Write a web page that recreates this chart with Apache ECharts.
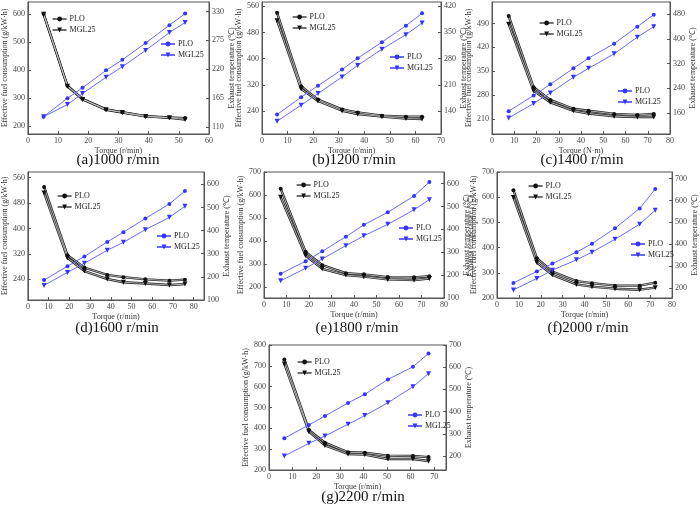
<!DOCTYPE html>
<html>
<head>
<meta charset="utf-8">
<script src="https://cdn.jsdelivr.net/npm/echarts@6/dist/echarts.min.js"></script>
<style>
  html, body { margin: 0; padding: 0; background: #fff; }
  #chart { width: 700px; height: 510px; }
</style>
</head>
<body>
<div id="chart"></div>
<script>
// torque values (x) and the two quantities for each speed
var torqueA = [5.2, 13.1, 18.1, 25.9, 31.3, 39.0, 46.9, 52.1];
var fuelPloA = [602, 344, 297, 259, 249, 235, 230, 228];
var fuelMglA = [600, 342, 295, 258, 248, 234, 229, 223];
var exhPloA = [130, 165, 185, 218, 238, 270, 304, 326];
var exhMglA = [130, 153, 174, 205, 225, 256, 290, 309];

var torqueB = [5.9, 15.3, 21.9, 31.3, 37.4, 46.9, 56.3, 62.6];
var fuelPloB = [540, 316, 275, 245, 236, 226, 223, 223];
var fuelMglB = [516, 308, 271, 241, 231, 223, 217, 216];
var exhPloB = [131, 177, 208, 251, 281, 324, 368, 401];
var exhMglB = [113, 156, 187, 231, 262, 305, 344, 375];

var torqueC = [7.5, 18.7, 26.2, 36.6, 43.4, 54.9, 65.3, 72.7];
var fuelPloC = [512, 303, 266, 240, 234, 225, 222, 225];
var fuelMglC = [488, 293, 259, 234, 226, 218, 216, 216];
var exhPloC = [166, 217, 253, 305, 338, 385, 440, 479];
var exhMglC = [144, 191, 225, 276, 305, 352, 406, 440];

var torqueD = [7.8, 19.1, 27.3, 38.3, 46.1, 56.7, 68.3, 75.8];
var fuelPloD = [531, 316, 277, 254, 247, 240, 236, 239];
var fuelMglD = [512, 308, 266, 241, 231, 227, 222, 225];
var exhPloD = [186, 246, 288, 351, 393, 452, 515, 571];
var exhMglD = [163, 219, 259, 315, 349, 404, 457, 505];

var torqueE = [7.4, 18.5, 25.9, 36.4, 44.4, 55.0, 66.7, 73.5];
var fuelPloE = [627, 352, 294, 259, 254, 242, 241, 246];
var fuelMglE = [590, 336, 278, 251, 244, 232, 229, 236];
var exhPloE = [206, 261, 304, 368, 420, 475, 546, 607];
var exhMglE = [175, 230, 271, 329, 372, 422, 486, 530];

var torqueF = [7.5, 18.2, 25.3, 36.3, 43.4, 53.9, 65.2, 72.3];
var fuelPloF = [628, 358, 305, 267, 259, 249, 249, 261];
var fuelMglF = [599, 341, 292, 254, 245, 237, 233, 241];
var exhPloF = [224, 276, 312, 364, 403, 473, 564, 652];
var exhMglF = [192, 244, 282, 329, 364, 423, 492, 556];

var torqueG = [6.5, 16.9, 23.7, 33.5, 40.6, 50.4, 61.0, 67.6];
var fuelPloG = [731, 392, 331, 285, 283, 269, 267, 262];
var fuelMglG = [709, 384, 318, 277, 274, 253, 253, 243];
var exhPloG = [280, 340, 380, 439, 478, 545, 602, 662];
var exhMglG = [200, 257, 290, 343, 382, 440, 512, 571];

// tick labels
var xTicks60 = [0, 10, 20, 30, 40, 50, 60];
var xTicks70 = [0, 10, 20, 30, 40, 50, 60, 70];
var xTicks80 = [0, 10, 20, 30, 40, 50, 60, 70, 80];
var fuelTicksA = [200, 300, 400, 500, 600];
var exhTicksA = [110, 165, 220, 275, 330];
var fuelTicksB = [240, 320, 400, 480, 560];
var exhTicksB = [140, 210, 280, 350, 420];
var fuelTicksC = [210, 280, 350, 420, 490];
var exhTicksC = [160, 240, 320, 400, 480];
var fuelTicksD = [240, 320, 400, 480, 560];
var exhTicksD = [100, 200, 300, 400, 500, 600];
var fuelTicksE = [200, 300, 400, 500, 600, 700];
var exhTicksE = [100, 200, 300, 400, 500, 600];
var fuelTicksF = [200, 300, 400, 500, 600, 700];
var exhTicksF = [200, 300, 400, 500, 600, 700];
var fuelTicksG = [200, 300, 400, 500, 600, 700, 800];
var exhTicksG = [200, 300, 400, 500, 600, 700];

var FONT = 'Liberation Serif';
var BLUE_LINE = '#6a6aff';
var BLUE_MARK = '#3434ff';

var panels = [
    { title: '(a)1000 r/min', tx: 118, ty: 153, grid: [27, 2, 182, 132], xName: 'Torque (r/min)',
      x: torqueA, fp: fuelPloA, fm: fuelMglA, ep: exhPloA, em: exhMglA,
      xMax: 60, xTicks: xTicks60, yl: [171, 644], ylTicks: fuelTicksA, yr: [97, 348], yrTicks: exhTicksA,
      lgK: [52, 15], lgB: [160, 40] },
    { title: '(b)1200 r/min', tx: 354, ty: 153, grid: [262, 2, 179, 132], xName: 'Torque (r/min)',
      x: torqueB, fp: fuelPloB, fm: fuelMglB, ep: exhPloB, em: exhMglB,
      xMax: 70, xTicks: xTicks70, yl: [170, 573], ylTicks: fuelTicksB, yr: [79, 431], yrTicks: exhTicksB,
      lgK: [292, 13], lgB: [389, 53] },
    { title: '(c)1400 r/min', tx: 582, ty: 153, grid: [492, 2, 178, 132], xName: 'Torque (N\u00b7m)',
      x: torqueC, fp: fuelPloC, fm: fuelMglC, ep: exhPloC, em: exhMglC,
      xMax: 80, xTicks: xTicks80, yl: [166, 553], ylTicks: fuelTicksC, yr: [92, 520], yrTicks: exhTicksC,
      lgK: [539, 19], lgB: [617, 87] },
    { title: '(d)1600 r/min', tx: 117, ty: 321, grid: [23, 172, 181, 128], xName: 'Torque (r/min)',
      x: torqueD, fp: fuelPloD, fm: fuelMglD, ep: exhPloD, em: exhMglD,
      xMax: 85, xTicks: xTicks80, yl: [175, 578], ylTicks: fuelTicksD, yr: [100, 653], yrTicks: exhTicksD,
      lgK: [57, 192], lgB: [156, 232] },
    { title: '(e)1800 r/min', tx: 357, ty: 321, grid: [264, 172, 180, 126], xName: 'Torque (r/min)',
      x: torqueE, fp: fuelPloE, fm: fuelMglE, ep: exhPloE, em: exhMglE,
      xMax: 80, xTicks: xTicks80, yl: [151, 700], ylTicks: fuelTicksE, yr: [100, 651], yrTicks: exhTicksE,
      lgK: [296, 181], lgB: [398, 224] },
    { title: '(f)2000 r/min', tx: 588, ty: 321, grid: [497, 172, 178, 126], xName: 'Torque (r/min)',
      x: torqueF, fp: fuelPloF, fm: fuelMglF, ep: exhPloF, em: exhMglF,
      xMax: 80, xTicks: xTicks80, yl: [200, 700], ylTicks: fuelTicksF, yr: [155, 730], yrTicks: exhTicksF,
      lgK: [528, 182], lgB: [630, 240] },
    { title: '(g)2200 r/min', tx: 363, ty: 490, grid: [269, 345, 177, 125], xName: 'Torque (r/min)',
      x: torqueG, fp: fuelPloG, fm: fuelMglG, ep: exhPloG, em: exhMglG,
      xMax: 75, xTicks: xTicks70, yl: [200, 800], ylTicks: fuelTicksG, yr: [137, 700], yrTicks: exhTicksG,
      lgK: [297, 358], lgB: [407, 411] }
];

var chart = echarts.init(document.getElementById('chart'));

var axisBase = {
    axisLine: { lineStyle: { color: '#555', width: 1 } },
    splitLine: { show: false },
    nameTextStyle: { fontFamily: FONT, fontSize: 8, color: '#333' }
};

function labels(vals) {
    return { customValues: vals, fontFamily: FONT, fontSize: 8, color: '#444', margin: 3 };
}
function ticks(vals) {
    return { customValues: vals, inside: true, length: 3, lineStyle: { color: '#555' } };
}
function pairs(xs, ys) {
    return xs.map(function (x, k) { return [x, ys[k]]; });
}

var grids = [], xAxes = [], yAxes = [], series = [], legends = [], titles = [];

panels.forEach(function (p, i) {
    grids.push({ left: p.grid[0], top: p.grid[1], width: p.grid[2], height: p.grid[3],
        show: true, borderColor: '#555', borderWidth: 1 });
    xAxes.push(Object.assign({}, axisBase, {
        type: 'value', gridIndex: i, min: 0, max: p.xMax,
        name: p.xName, nameLocation: 'middle', nameGap: 13,
        axisLabel: labels(p.xTicks), axisTick: ticks(p.xTicks)
    }));
    yAxes.push(Object.assign({}, axisBase, {
        type: 'value', gridIndex: i, position: 'left', min: p.yl[0], max: p.yl[1],
        name: 'Effective fuel consumption (g/kW\u00b7h)', nameLocation: 'middle', nameGap: 16, nameRotate: 90,
        axisLabel: labels(p.ylTicks), axisTick: ticks(p.ylTicks)
    }));
    yAxes.push(Object.assign({}, axisBase, {
        type: 'value', gridIndex: i, position: 'right', min: p.yr[0], max: p.yr[1],
        name: 'Exhaust temperature (\u2103)', nameLocation: 'middle', nameGap: 15, nameRotate: 90,
        axisLabel: labels(p.yrTicks), axisTick: ticks(p.yrTicks)
    }));

    // black fuel lines: a dark stroke under a thin light one gives the double line look
    [['PLO', p.fp, 'circle', 0, 4], ['MGL25', p.fm, 'triangle', 180, 5]].forEach(function (s) {
        var d = pairs(p.x, s[1]);
        series.push({
            type: 'line', name: s[0] + '|bg' + i, xAxisIndex: i, yAxisIndex: 2 * i, data: d,
            showSymbol: false, silent: true, z: 2,
            lineStyle: { color: '#222', width: 2.4 }
        });
        series.push({
            type: 'line', name: s[0] + '|k' + i, xAxisIndex: i, yAxisIndex: 2 * i, data: d,
            symbol: s[2], symbolRotate: s[3], symbolSize: s[4], z: 3,
            itemStyle: { color: '#111' },
            lineStyle: { color: '#d0d0d0', width: 0.8 }
        });
    });
    // blue exhaust temperature lines
    [['PLO', p.ep, 'circle', 0, 4], ['MGL25', p.em, 'triangle', 180, 5]].forEach(function (s) {
        series.push({
            type: 'line', name: s[0] + '|b' + i, xAxisIndex: i, yAxisIndex: 2 * i + 1,
            data: pairs(p.x, s[1]),
            symbol: s[2], symbolRotate: s[3], symbolSize: s[4], z: 3,
            itemStyle: { color: BLUE_MARK },
            lineStyle: { color: BLUE_LINE, width: 1 }
        });
    });

    var lgCommon = {
        orient: 'vertical', itemWidth: 14, itemHeight: 6, itemGap: 3, padding: 0,
        selectedMode: false,
        textStyle: { fontFamily: FONT, fontSize: 8, color: '#222', padding: [0, 0, 0, -2] },
        formatter: function (n) { return n.split('|')[0]; }
    };
    legends.push(Object.assign({}, lgCommon, {
        left: p.lgK[0], top: p.lgK[1],
        data: [
            { name: 'PLO|k' + i, lineStyle: { color: '#111', width: 1.2 } },
            { name: 'MGL25|k' + i, lineStyle: { color: '#111', width: 1.2 } }
        ]
    }));
    legends.push(Object.assign({}, lgCommon, {
        left: p.lgB[0], top: p.lgB[1],
        data: ['PLO|b' + i, 'MGL25|b' + i]
    }));

    titles.push({
        text: p.title, left: p.tx, top: p.ty, textAlign: 'center', padding: 0,
        textStyle: { fontFamily: FONT, fontSize: 15, fontWeight: 'normal', color: '#111' }
    });
});

chart.setOption({
    animation: false,
    backgroundColor: '#fff',
    title: titles,
    grid: grids,
    xAxis: xAxes,
    yAxis: yAxes,
    legend: legends,
    series: series,
    graphic: [{
        // stray second axis title at the left edge of panel (f)
        type: 'text', x: 467, y: 236, rotation: Math.PI / 2,
        style: { text: 'Exhaust temperature (\u2103)', fontFamily: FONT, fontSize: 8,
            fill: '#333', align: 'center', verticalAlign: 'top' }
    }]
});
</script>
</body>
</html>
